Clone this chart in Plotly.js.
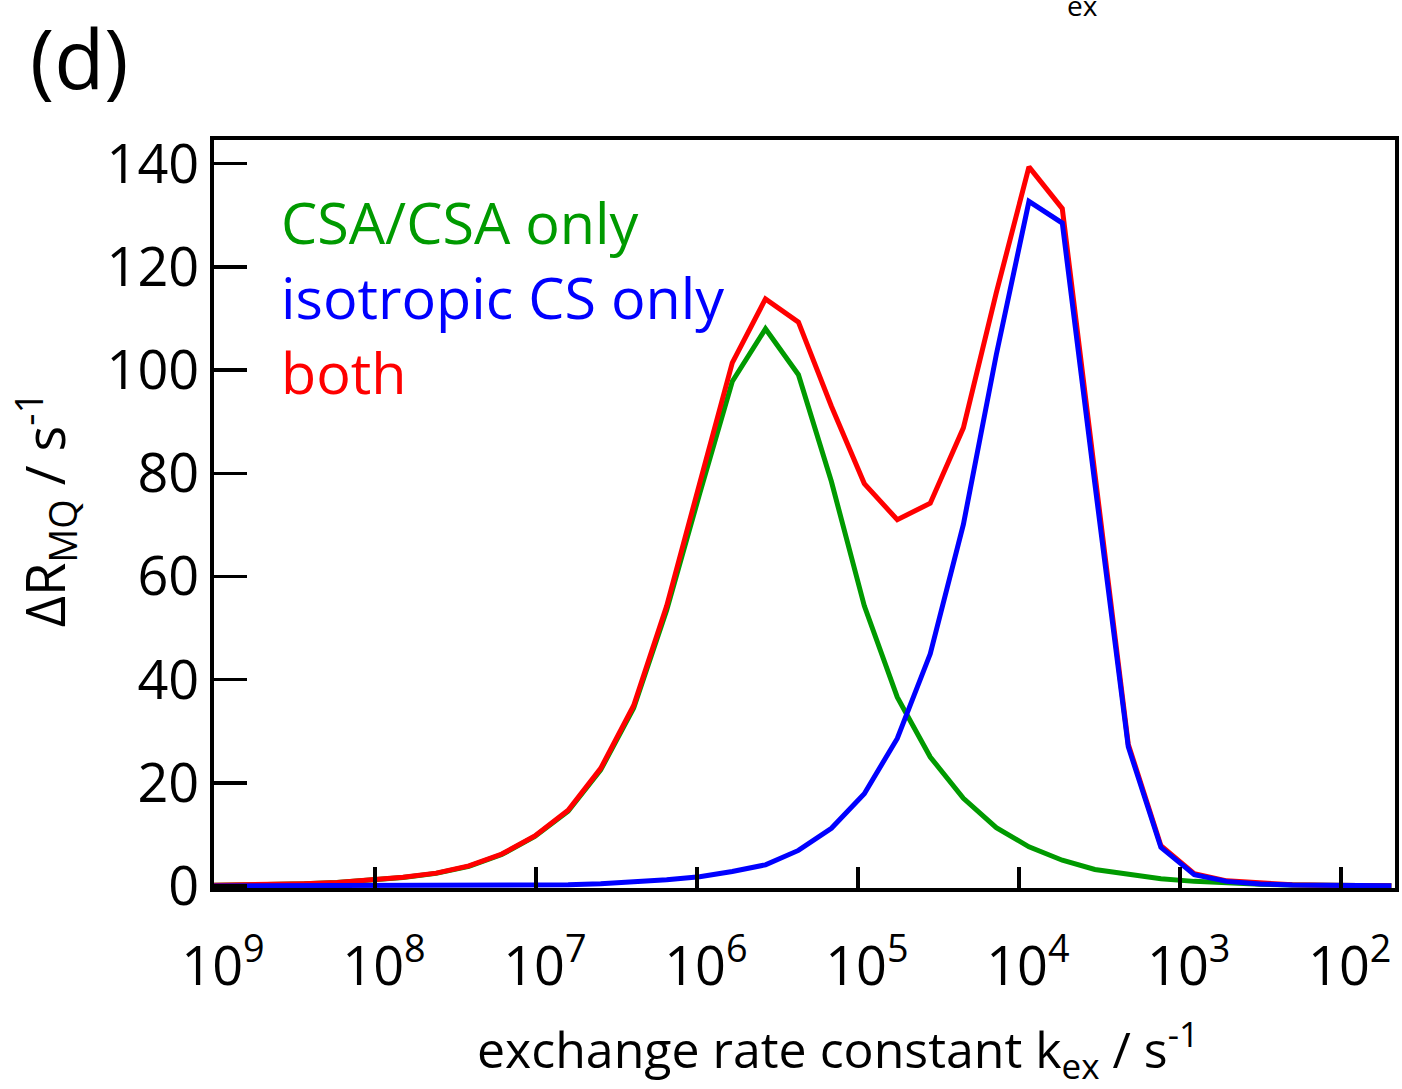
<!DOCTYPE html>
<html>
<head>
<meta charset="utf-8">
<script src="https://cdn.plot.ly/plotly-3.0.1.min.js"></script>
<style>
  html, body { margin: 0; padding: 0; background: #ffffff; }
  #chart { width: 1402px; height: 1089px; }
</style>
</head>
<body>
<div id="chart"></div>
<script>
// exchange rate constant k_ex (s^-1), sampled points of the simulation
const kex = [1.135e9, 7.08e8, 4.42e8, 2.75e8, 1.72e8, 1.07e8, 6.70e7, 4.17e7, 2.61e7, 1.63e7,
             1.016e7, 6.31e6, 3.96e6, 2.47e6, 1.54e6, 9.62e5, 6.03e5, 3.75e5, 2.34e5, 1.46e5,
             9.12e4, 5.69e4, 3.55e4, 2.21e4, 1.38e4, 8.65e3, 5.37e3, 3.37e3, 2.09e3, 1.31e3,
             813, 511, 316, 200, 124, 77.6, 48.5];

// ΔR_MQ (s^-1)
const csaOnly = [0.10, 0.17, 0.27, 0.43, 0.68, 1.05, 1.65, 2.45, 3.8, 6.1,
                 9.6, 14.5, 22.5, 34.5, 53.5, 76.0, 97.8, 108.0, 99.1, 78.4,
                 54.3, 36.6, 25.0, 17.0, 11.3, 7.6, 5.0, 3.2, 2.2, 1.4,
                 0.9, 0.55, 0.35, 0.22, 0.14, 0.09, 0.06];
const isoOnly = [0.01, 0.01, 0.01, 0.02, 0.02, 0.03, 0.04, 0.05, 0.07, 0.1,
                 0.15, 0.25, 0.45, 0.75, 1.2, 1.8, 2.8, 4.1, 6.9, 11.2,
                 17.9, 28.6, 45.0, 70.1, 103.0, 132.7, 128.5, 78.0, 27.0, 7.5,
                 2.2, 0.9, 0.4, 0.2, 0.1, 0.05, 0.03];
const both    = [0.11, 0.18, 0.28, 0.45, 0.70, 1.1, 1.7, 2.5, 3.9, 6.2,
                 9.7, 14.7, 22.8, 35.0, 54.3, 78.0, 101.4, 113.8, 109.3, 93.0,
                 78.0, 71.0, 74.2, 88.8, 115.0, 139.4, 131.3, 80.0, 27.5, 7.8,
                 2.4, 1.0, 0.5, 0.25, 0.15, 0.1, 0.06];

const xTickVals = [1e9, 1e8, 1e7, 1e6, 1e5, 1e4, 1e3, 1e2];
const xTickText = ['10<sup>9</sup>', '10<sup>8</sup>', '10<sup>7</sup>', '10<sup>6</sup>',
                   '10<sup>5</sup>', '10<sup>4</sup>', '10<sup>3</sup>', '10<sup>2</sup>'];
const yTickVals = [0, 20, 40, 60, 80, 100, 120, 140];

const seriesNames = ['CSA/CSA only', 'isotropic CS only', 'both'];
const seriesColors = ['#009a00', '#0000ff', '#ff0000'];

const FONT = '"Open Sans", "Noto Sans", sans-serif';

const traces = [
  {x: kex, y: csaOnly, name: seriesNames[0], mode: 'lines', line: {color: seriesColors[0], width: 5}},
  {x: kex, y: both,    name: seriesNames[2], mode: 'lines', line: {color: seriesColors[2], width: 5}},
  {x: kex, y: isoOnly, name: seriesNames[1], mode: 'lines', line: {color: seriesColors[1], width: 5}}
];

// plot-area box in page pixels
const L = 214, R = 1395.5, T = 139.5, B = 888;
const W = R - L, H = B - T;
const px = (x) => (x - L) / W;
const py = (y) => (B - y) / H;

const layout = {
  width: 1402, height: 1089,
  margin: {l: L, r: 1402 - R, t: T, b: 1089 - B, pad: 0},
  paper_bgcolor: '#ffffff', plot_bgcolor: '#ffffff',
  showlegend: false,
  font: {family: FONT, color: '#000000'},
  xaxis: {
    type: 'log', range: [9.0, 1.663],
    tickvals: xTickVals, ticktext: xTickText,
    ticks: 'inside', ticklen: 21, tickwidth: 3.5, tickcolor: '#000',
    showline: true, linewidth: 4, linecolor: '#000', mirror: true,
    showgrid: false, zeroline: false,
    tickfont: {size: 54, family: FONT, color: '#000'},
    ticklabelstandoff: 28, ticklabelshift: -9
  },
  yaxis: {
    range: [-0.385, 144.6],
    tickvals: yTickVals,
    ticks: 'inside', ticklen: 33, tickwidth: 3.5, tickcolor: '#000',
    showline: true, linewidth: 4, linecolor: '#000', mirror: true,
    showgrid: false, zeroline: false,
    tickfont: {size: 54, family: FONT, color: '#000'},
    ticklabelstandoff: 0
  },
  annotations: [
    {text: '(d)', xref: 'paper', yref: 'paper', x: px(79), y: py(56), showarrow: false,
     xanchor: 'center', yanchor: 'middle', font: {size: 82, family: FONT, color: '#000'}},
    {text: 'ex', xref: 'paper', yref: 'paper', x: px(1083), y: py(4), showarrow: false,
     xanchor: 'center', yanchor: 'middle', font: {size: 28, family: FONT, color: '#000'}},
    {text: seriesNames[0], xref: 'paper', yref: 'paper', x: px(279), y: py(222),
     showarrow: false, xanchor: 'left', yanchor: 'middle', font: {size: 57.5, family: FONT, color: seriesColors[0]}},
    {text: seriesNames[1], xref: 'paper', yref: 'paper', x: px(279), y: py(297),
     showarrow: false, xanchor: 'left', yanchor: 'middle', font: {size: 57.5, family: FONT, color: seriesColors[1]}},
    {text: seriesNames[2], xref: 'paper', yref: 'paper', x: px(279), y: py(372),
     showarrow: false, xanchor: 'left', yanchor: 'middle', font: {size: 57.5, family: FONT, color: seriesColors[2]}},
    {text: 'exchange rate constant k<sub>ex</sub> / s<sup>-1</sup>', xref: 'paper', yref: 'paper',
     x: px(838), y: py(1050), showarrow: false,
     xanchor: 'center', yanchor: 'middle', font: {size: 50, family: FONT, color: '#000'}},
    {text: 'ΔR<sub>MQ</sub> / s<sup>-1</sup>', xref: 'paper', yref: 'paper',
     x: px(45), y: py(510), showarrow: false, textangle: -90,
     xanchor: 'center', yanchor: 'middle', font: {size: 54, family: FONT, color: '#000'}}
  ]
};

Plotly.newPlot('chart', traces, layout, {displayModeBar: false, staticPlot: true});
</script>
</body>
</html>
